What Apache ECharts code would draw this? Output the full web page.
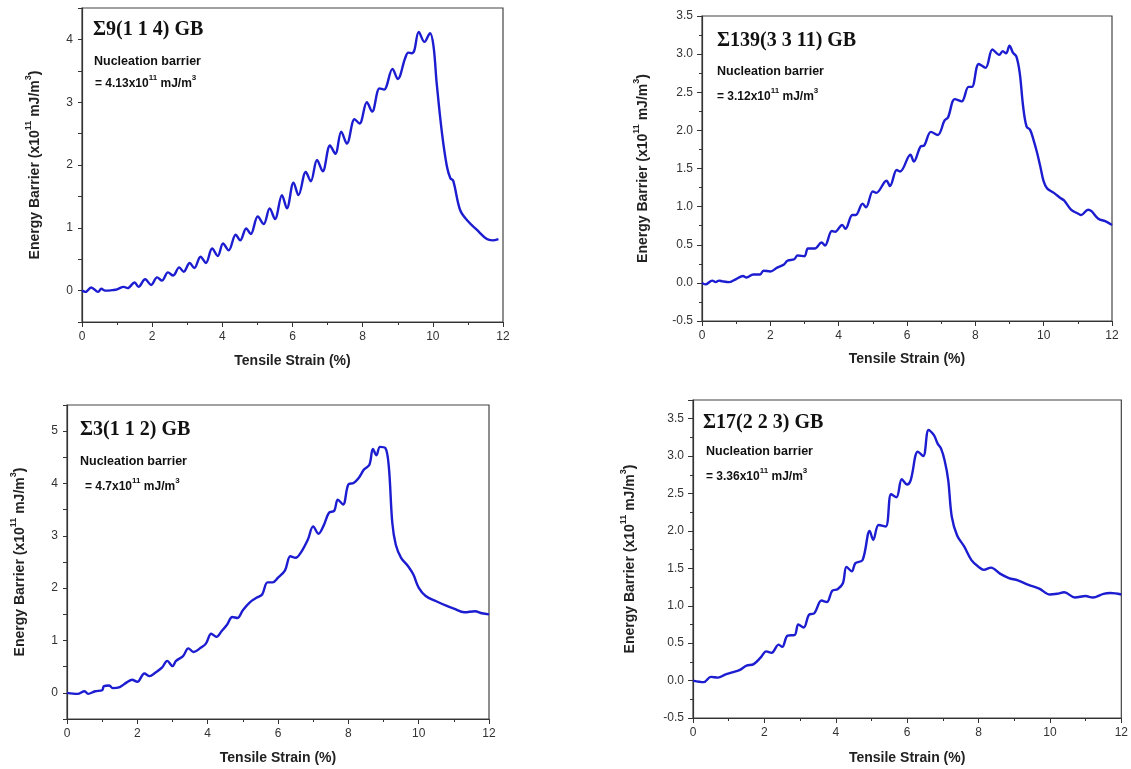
<!DOCTYPE html>
<html>
<head>
<meta charset="utf-8">
<script src="https://cdn.jsdelivr.net/npm/echarts@6/dist/echarts.min.js"></script>
<style>html,body{margin:0;padding:0;background:#fff}#c{width:1131px;height:769px}</style>
</head>
<body>
<div id="c"></div>
<script>
// ---- Panel A: Σ9(1 1 4) GB ----
const strainA = [0,0.1,0.26,0.46,0.55,0.66,0.9,1.0,1.19,1.3,1.5,1.61,1.8,1.97,2.14,2.28,2.45,2.6,2.77,2.9,3.07,3.2,3.38,3.53,3.71,3.87,4.02,4.18,4.38,4.51,4.68,4.81,5.01,5.18,5.35,5.5,5.7,5.84,6.03,6.17,6.38,6.52,6.7,6.86,7.07,7.22,7.39,7.55,7.77,7.91,8.12,8.27,8.48,8.61,8.85,9.0,9.21,9.3,9.4,9.47,9.6,9.76,9.92,10.02,10.11,10.26,10.4,10.5,10.58,10.78,11.01,11.25,11.54,11.7,11.87];
const energyA = [0,-0.02,0.05,-0.02,0.03,0.0,0.01,0.02,0.06,0.04,0.13,0.06,0.18,0.09,0.21,0.16,0.29,0.24,0.37,0.30,0.44,0.36,0.54,0.44,0.67,0.55,0.75,0.64,0.89,0.80,0.99,0.90,1.18,1.06,1.31,1.14,1.52,1.31,1.72,1.52,1.89,1.74,2.08,1.90,2.31,2.18,2.53,2.34,2.73,2.66,3.00,2.85,3.22,3.20,3.53,3.37,3.70,3.79,3.78,3.82,4.12,3.96,4.10,3.89,3.30,2.51,1.98,1.79,1.75,1.28,1.10,0.97,0.82,0.80,0.82];

// ---- Panel B: Σ139(3 3 11) GB ----
const strainB = [0,0.1,0.3,0.4,0.5,0.6,0.8,1.0,1.2,1.3,1.5,1.7,1.8,2.0,2.2,2.4,2.5,2.7,2.8,3.0,3.1,3.3,3.5,3.6,3.8,3.9,4.1,4.2,4.4,4.5,4.7,4.8,5.0,5.1,5.4,5.5,5.7,5.8,6.1,6.2,6.4,6.5,6.7,6.9,7.1,7.2,7.4,7.6,7.8,7.9,8.1,8.3,8.5,8.7,8.8,8.9,9.0,9.1,9.2,9.3,9.4,9.5,9.6,9.7,9.8,9.9,10.0,10.1,10.3,10.5,10.6,10.8,11.0,11.1,11.3,11.4,11.6,11.8,12.0];
const energyB = [0,-0.02,0.03,0.01,0.03,0.02,0.01,0.05,0.09,0.07,0.11,0.11,0.16,0.15,0.20,0.24,0.29,0.31,0.36,0.35,0.45,0.45,0.53,0.49,0.68,0.67,0.76,0.71,0.89,0.89,1.04,0.99,1.20,1.18,1.34,1.27,1.48,1.46,1.68,1.59,1.79,1.80,1.98,1.94,2.13,2.17,2.41,2.38,2.57,2.57,2.87,2.82,3.06,2.99,3.04,3.01,3.11,3.02,2.97,2.75,2.31,2.05,2.01,1.88,1.72,1.53,1.33,1.24,1.18,1.11,1.08,0.96,0.91,0.89,0.96,0.94,0.84,0.81,0.76];

// ---- Panel C: Σ3(1 1 2) GB ----
const strainC = [0,0.3,0.5,0.6,0.8,1.0,1.05,1.2,1.3,1.5,1.7,1.85,2.0,2.2,2.35,2.5,2.7,2.85,3.0,3.1,3.3,3.45,3.6,3.8,3.95,4.1,4.25,4.4,4.55,4.7,4.85,5.0,5.2,5.4,5.55,5.7,5.85,6.0,6.2,6.35,6.5,6.65,6.85,7.0,7.15,7.3,7.45,7.6,7.7,7.85,8.0,8.15,8.3,8.45,8.6,8.7,8.8,8.9,9.05,9.15,9.25,9.35,9.5,9.7,9.85,10.0,10.2,10.5,10.8,11.0,11.3,11.6,11.8,12.0];
const energyC = [0,-0.02,0.03,-0.02,0.03,0.05,0.13,0.14,0.09,0.11,0.20,0.25,0.21,0.37,0.32,0.38,0.48,0.61,0.51,0.61,0.70,0.85,0.78,0.86,0.94,1.13,1.07,1.18,1.30,1.45,1.43,1.58,1.73,1.82,1.88,2.11,2.11,2.20,2.34,2.61,2.58,2.68,2.93,3.18,3.04,3.20,3.44,3.48,3.69,3.60,3.98,4.01,4.11,4.27,4.36,4.66,4.54,4.70,4.68,4.33,3.25,2.83,2.58,2.42,2.26,2.01,1.85,1.75,1.66,1.61,1.54,1.56,1.52,1.50];

// ---- Panel D: Σ17(2 2 3) GB ----
const strainD = [0,0.3,0.5,0.7,0.9,1.1,1.3,1.5,1.7,1.9,2.05,2.2,2.4,2.5,2.65,2.85,2.95,3.1,3.25,3.4,3.6,3.75,3.9,4.05,4.2,4.3,4.45,4.55,4.75,4.95,5.05,5.2,5.4,5.55,5.7,5.85,6.0,6.1,6.3,6.45,6.6,6.75,6.85,6.95,7.05,7.15,7.25,7.4,7.6,7.8,8.0,8.15,8.35,8.6,8.85,9.1,9.4,9.7,10.0,10.2,10.4,10.7,11.0,11.2,11.5,11.7,12.0];
const energyD = [0,-0.02,0.05,0.04,0.08,0.11,0.14,0.20,0.22,0.31,0.39,0.37,0.48,0.45,0.60,0.61,0.75,0.71,0.88,0.90,1.07,1.05,1.20,1.22,1.30,1.52,1.46,1.57,1.61,2.00,1.88,2.08,2.06,2.49,2.45,2.69,2.62,2.68,3.06,3.00,3.35,3.28,3.17,3.10,2.94,2.68,2.19,1.94,1.79,1.61,1.52,1.48,1.51,1.43,1.37,1.34,1.28,1.23,1.15,1.16,1.18,1.11,1.13,1.11,1.16,1.17,1.15];

const xTicks = [0, 12, 2];
const panelTitles = ['Σ9(1 1 4) GB', 'Σ139(3 3 11) GB', 'Σ3(1 1 2) GB', 'Σ17(2 2 3) GB'];
const barrierValues = ['4.13', '3.12', '4.7', '3.36'];

const zip = (a, b) => a.map((v, i) => [v, b[i]]);
const series = [zip(strainA, energyA), zip(strainB, energyB), zip(strainC, energyC), zip(strainD, energyD)];

const SANS = 'Liberation Sans, Arial, sans-serif';
const SERIF = 'Liberation Serif, Times New Roman, serif';
const AX = '#333';

const grids = [
  {left: 82, top: 8, width: 421, height: 314},
  {left: 702, top: 16, width: 410, height: 305},
  {left: 67, top: 405, width: 422, height: 314},
  {left: 693, top: 400, width: 432, height: 318}
];
const yCfg = [
  {min: -0.5, max: 4.5, interval: 0.5, intOnly: true, gap: 40, fmt: v => v},
  {min: -0.5, max: 3.5, interval: 0.5, intOnly: false, gap: 52, fmt: v => v.toFixed(1)},
  {min: -0.5, max: 5.5, interval: 0.5, intOnly: true, gap: 40, fmt: v => v},
  {min: -0.5, max: 3.75, interval: 0.5, intOnly: false, gap: 56, fmt: v => v.toFixed(1)}
];
const xGap = [32, 31, 32, 33];

const nameRich = {
  n: {fontFamily: SANS, fontWeight: 'bold', fontSize: 14, color: '#222', lineHeight: 18, verticalAlign: 'bottom'},
  s: {fontFamily: SANS, fontWeight: 'bold', fontSize: 9, color: '#222', lineHeight: 10, verticalAlign: 'top'}
};

const option = {
  animation: false,
  backgroundColor: '#fff',
  grid: grids.map(g => Object.assign({show: true, borderColor: '#444', borderWidth: 1.2, backgroundColor: 'transparent'}, g)),
  xAxis: grids.map((g, i) => ({
    type: 'value', gridIndex: i, min: xTicks[0], max: xTicks[1], interval: xTicks[2],
    name: 'Tensile Strain (%)', nameLocation: 'middle', nameGap: xGap[i],
    nameTextStyle: {fontFamily: SANS, fontWeight: 'bold', fontSize: 14, color: '#222'},
    axisLine: {show: true, onZero: false, lineStyle: {color: AX, width: 1.2}},
    axisTick: {show: true, inside: false, length: 5, lineStyle: {color: AX}},
    minorTick: {show: true, splitNumber: 2, length: 3, lineStyle: {color: AX}},
    axisLabel: {fontFamily: SANS, fontSize: 12, color: '#333', margin: 9, showMaxLabel: true},
    splitLine: {show: false}
  })),
  yAxis: yCfg.map((c, i) => ({
    type: 'value', gridIndex: i, min: c.min, max: c.max, interval: c.interval,
    name: '{n|Energy Barrier (x10}{s|11}{n| mJ/m}{s|3}{n|)}', nameLocation: 'middle', nameGap: c.gap,
    nameTextStyle: {rich: nameRich},
    axisLine: {show: true, onZero: false, lineStyle: {color: AX, width: 1.2}},
    axisTick: {show: true, inside: false, length: c.intOnly ? 4 : 5, lineStyle: {color: AX}},
    minorTick: {show: !c.intOnly, splitNumber: 2, length: 3, lineStyle: {color: AX}},
    axisLabel: {
      fontFamily: SANS, fontSize: 12, color: '#333', margin: 9, showMaxLabel: i !== 3,
      formatter: v => (c.intOnly && Math.abs(v - Math.round(v)) > 1e-6) ? '' : c.fmt(v)
    },
    splitLine: {show: false}
  })),
  series: series.map((d, i) => ({
    type: 'line', xAxisIndex: i, yAxisIndex: i, data: d,
    showSymbol: false, smooth: 0.35, clip: true,
    lineStyle: {color: '#1c1cd0', width: 2.4}
  })),
  graphic: []
};

const annPos = [
  {tx: 93, ty: 30, nx: 94, ny: 62, vx: 95, vy: 82},
  {tx: 717, ty: 41, nx: 717, ny: 72, vx: 717, vy: 95},
  {tx: 80, ty: 430, nx: 80, ny: 462, vx: 85, vy: 485},
  {tx: 703, ty: 423, nx: 706, ny: 452, vx: 706, vy: 475}
];
const annRich = {
  n: {fontFamily: SANS, fontWeight: 'bold', fontSize: 12, fill: '#111', lineHeight: 16, verticalAlign: 'bottom'},
  s: {fontFamily: SANS, fontWeight: 'bold', fontSize: 8, fill: '#111', lineHeight: 8, verticalAlign: 'top'}
};
annPos.forEach((p, i) => {
  option.graphic.push({
    type: 'text', x: p.tx, y: p.ty, silent: true,
    style: {text: panelTitles[i], font: 'bold 20px ' + SERIF, fill: '#111', verticalAlign: 'middle', align: 'left'}
  });
  option.graphic.push({
    type: 'text', x: p.nx, y: p.ny, silent: true,
    style: {text: 'Nucleation barrier', font: 'bold 12.5px ' + SANS, fill: '#111', verticalAlign: 'middle', align: 'left'}
  });
  option.graphic.push({
    type: 'text', x: p.vx, y: p.vy, silent: true,
    style: {text: '{n|= ' + barrierValues[i] + 'x10}{s|11}{n| mJ/m}{s|3}', rich: annRich, verticalAlign: 'middle', align: 'left'}
  });
});

const chart = echarts.init(document.getElementById('c'), null, {renderer: 'canvas'});
chart.setOption(option);
</script>
</body>
</html>
